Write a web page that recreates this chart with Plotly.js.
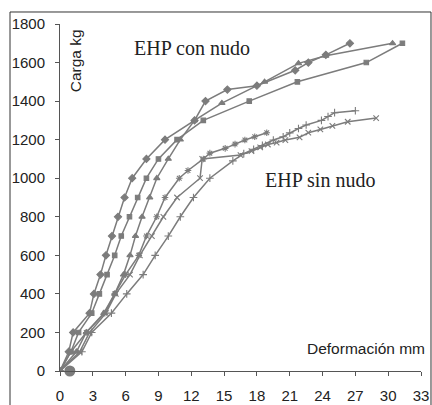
<!DOCTYPE html>
<html><head><meta charset="utf-8">
<script src="https://cdn.plot.ly/plotly-3.0.1.min.js"></script>
<style>html,body{margin:0;padding:0;background:#fff}#c{width:432px;height:405px}</style>
</head><body><div id="c"></div>
<script>
// Con nudo series
const diamondX = [0,0.8,1.2,2.7,3.1,3.7,4.2,4.75,5.3,5.9,6.6,7.9,9.6,12.3,13.3,15.3,18.0,21.5,22.7,24.3,26.5];
const diamondY = [0,100,200,300,400,500,600,700,800,900,1000,1100,1200,1300,1400,1460,1480,1560,1600,1640,1700];
const squareX = [0,1.0,1.7,2.9,3.6,4.3,5.0,5.6,6.35,7.1,7.9,9.0,10.7,13.1,17.3,21.7,28.0,31.3];
const squareY = [0,100,200,300,400,500,600,700,800,900,1000,1100,1200,1300,1400,1500,1600,1700];
const triangleX = [0,1.5,2.4,4.0,5.0,5.8,6.4,6.9,7.5,8.2,8.85,9.9,11.0,12.3,14.8,18.7,21.8,24.3,30.4];
const triangleY = [0,100,200,300,400,500,600,700,800,900,1000,1100,1200,1300,1390,1500,1596,1635,1700];
// Sin nudo series
const starX = [0,1.0,2.4,4.1,5.0,6.0,7.2,7.9,8.84,9.6,10.9,11.7,13.1,13.7,15.1,16.0,16.9,17.8,18.9];
const starY = [0,100,200,300,400,500,600,700,800,900,1000,1040,1100,1130,1155,1177,1198,1215,1236];
const xmarkX = [0,1.8,2.7,4.2,5.1,6.4,7.3,8.4,9.45,10.7,12.8,13.0,16.5,17.5,18.3,19.0,19.8,20.6,21.9,22.7,23.8,24.9,26.3,28.9];
const xmarkY = [0,100,200,300,400,500,600,700,800,900,1000,1100,1120,1140,1160,1175,1185,1198,1212,1236,1253,1272,1293,1312];
const crossX = [0,2.0,2.9,4.7,6.1,7.6,8.7,9.9,11.0,12.2,13.7,15.8,16.8,17.7,18.5,19.5,20.4,21.0,21.8,22.5,23.9,24.5,25.1,27.0];
const crossY = [0,100,200,300,400,500,600,700,800,900,1000,1090,1128,1150,1170,1198,1215,1235,1258,1276,1300,1320,1340,1350];
const dotX = [0.9];
const dotY = [0];

const xTicks = [0,3,6,9,12,15,18,21,24,27,30,33];
const yTicks = [0,200,400,600,800,1000,1200,1400,1600,1800];

const col = '#7c7c7c';
function tr(x, y, sym, size) {
  return {x: x, y: y, type: 'scatter', mode: 'lines+markers',
    line: {color: col, width: 1.5},
    marker: {symbol: sym, size: size, color: col, line: {color: col, width: 1.1}},
    showlegend: false, hoverinfo: 'skip'};
}
const data = [
  tr(diamondX, diamondY, 'diamond', 5.5),
  tr(squareX, squareY, 'square', 4.5),
  tr(triangleX, triangleY, 'triangle-up', 5.5),
  tr(starX, starY, 'asterisk-open', 5.5),
  tr(xmarkX, xmarkY, 'x-thin-open', 5.5),
  tr(crossX, crossY, 'cross-thin-open', 5.5),
  {x: dotX, y: dotY, type: 'scatter', mode: 'markers', marker: {symbol: 'circle', size: 11, color: col},
   showlegend: false, hoverinfo: 'skip', cliponaxis: false}
];

const sans = 'Liberation Sans, Arial, sans-serif';
const serif = 'Liberation Serif, Times New Roman, serif';
const axFont = {family: sans, size: 15, color: '#222'};
const layout = {
  width: 432, height: 405,
  margin: {l: 60, r: 11, t: 24, b: 34},
  paper_bgcolor: '#fff', plot_bgcolor: '#fff',
  showlegend: false,
  xaxis: {range: [0, 33], tickvals: xTicks, ticktext: xTicks.map(String), showgrid: false, zeroline: false,
    showline: true, linecolor: '#555', linewidth: 1, ticks: 'outside', ticklen: 4, tickcolor: '#555',
    tickfont: axFont, ticklabelstandoff: 7, fixedrange: true},
  yaxis: {range: [0, 1800], tickvals: yTicks, ticktext: yTicks.map(String), showgrid: false, zeroline: false,
    showline: true, linecolor: '#555', linewidth: 1, ticks: 'outside', ticklen: 4, tickcolor: '#555',
    tickfont: axFont, ticklabelstandoff: 7, fixedrange: true},
  shapes: [
    {type: 'rect', xref: 'paper', yref: 'paper', x0: -0.1385, x1: 1.0277, y0: -0.2, y1: 1.0346,
     line: {color: '#333', width: 1}, fillcolor: 'rgba(0,0,0,0)'}
  ],
  annotations: [
    {text: 'Carga kg', xref: 'paper', yref: 'paper', x: 0.042, y: 0.893, xanchor: 'center', yanchor: 'middle',
     textangle: -90, showarrow: false, font: {family: sans, size: 15.5, color: '#222'}},
    {text: 'EHP con nudo', xref: 'paper', yref: 'paper', x: 0.367, y: 0.931, xanchor: 'center', yanchor: 'middle',
     showarrow: false, font: {family: serif, size: 20, color: '#222'}},
    {text: 'EHP sin nudo', xref: 'paper', yref: 'paper', x: 0.719, y: 0.550, xanchor: 'center', yanchor: 'middle',
     showarrow: false, font: {family: serif, size: 20, color: '#222'}},
    {text: 'Deformación mm', xref: 'paper', yref: 'paper', x: 1.017, xanchor: 'right', y: 0.066, yanchor: 'middle',
     showarrow: false, font: {family: sans, size: 15.5, color: '#222'}}
  ]
};
Plotly.newPlot('c', data, layout, {staticPlot: true, displayModeBar: false});
</script></body></html>
